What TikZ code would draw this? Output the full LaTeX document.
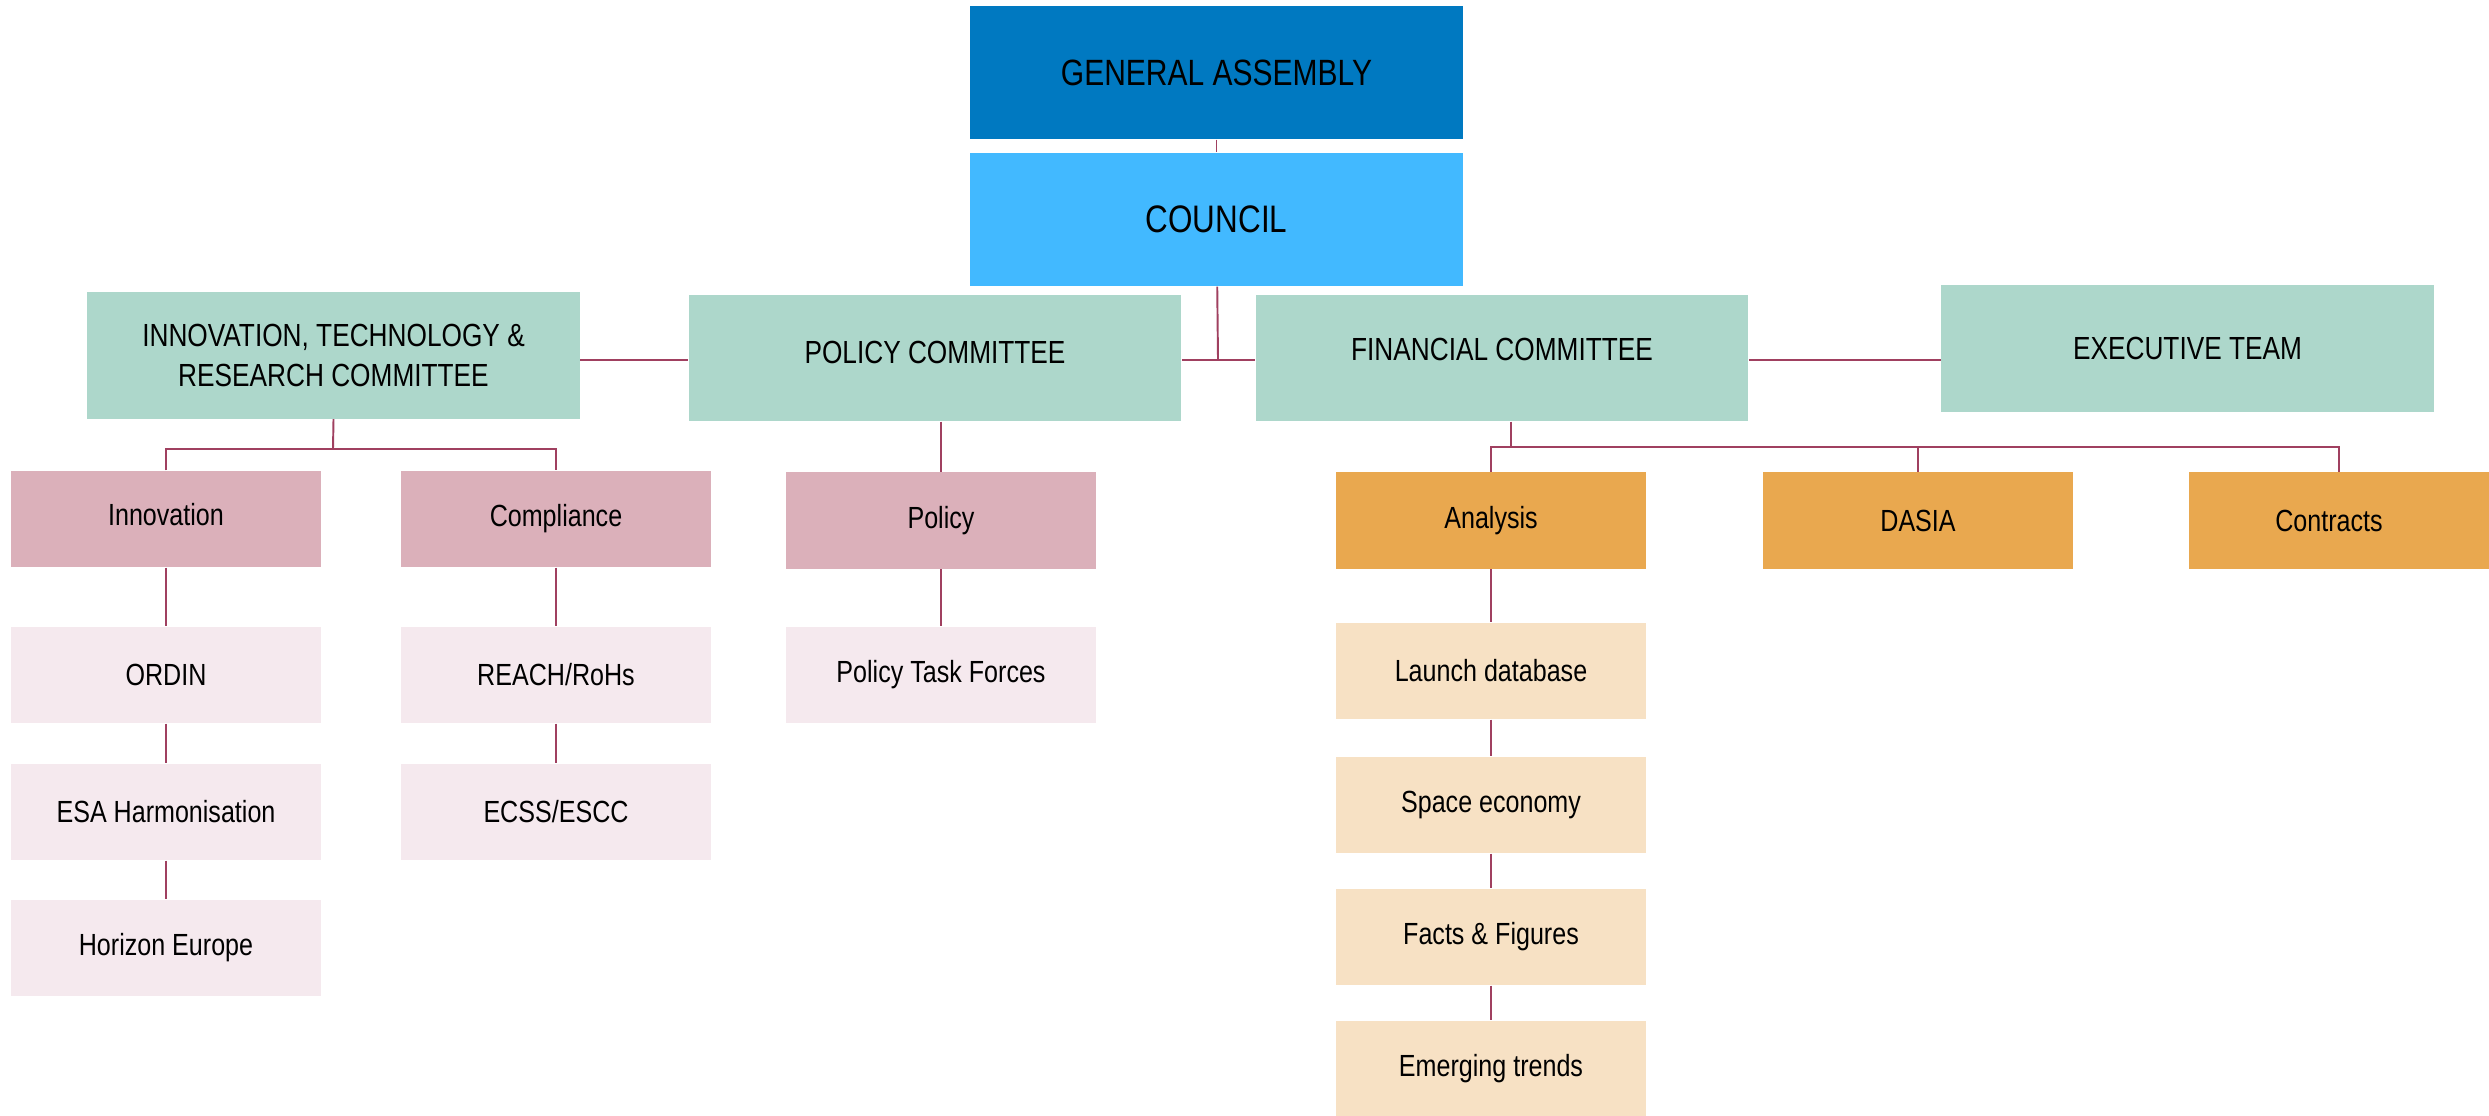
\documentclass[tikz,border=0pt]{standalone}
\usepackage{fontspec}
\setmainfont{Liberation Sans}[FakeStretch=0.82]
\usetikzlibrary{positioning}

\definecolor{gacol}{RGB}{0,121,193}
\definecolor{councilcol}{RGB}{66,185,255}
\definecolor{cmtecol}{RGB}{173,215,203}
\definecolor{wgcol}{RGB}{219,176,186}
\definecolor{wgitemcol}{RGB}{245,233,238}
\definecolor{fincol}{RGB}{233,168,79}
\definecolor{finitemcol}{RGB}{247,225,196}
\definecolor{linkcol}{RGB}{160,64,96}

% lift a text inside its box
\newcommand{\liftby}[1]{\rule[-#1]{0pt}{0pt}}

\tikzset{
	box/.style={rectangle, inner sep=0pt, align=center, text=black},
	topbox/.style={box, minimum width=4.93cm, minimum height=1.33cm},
	cmtebox/.style={box, fill=cmtecol, minimum width=4.92cm, minimum height=1.26cm, font=\fontsize{9.1}{11.3}\selectfont},
	wgbox/.style={box, fill=wgcol, minimum width=3.1cm, minimum height=0.96cm, font=\fontsize{8.7}{10.5}\selectfont},
	wgitembox/.style={wgbox, fill=wgitemcol},
	finbox/.style={wgbox, fill=fincol},
	finitembox/.style={wgbox, fill=finitemcol},
	link/.style={draw=linkcol, line width=0.55pt}
}

\begin{document}
\begin{tikzpicture}[x=0.01cm, y=-0.01cm]
		\useasboundingbox (0,0) rectangle (2489,1116);
		%
		% links first, boxes on top
		\coordinate (hub) at (1218,360);
		\coordinate (itrbus) at (333,449);
		\coordinate (finbus) at (1511,447);
		%
		% top of the tree
		\node (ga) at (1216.5,72.5) [topbox, fill=gacol, font=\fontsize{10.4}{12}\selectfont] {GENERAL ASSEMBLY};
		\node (council) at (1216.5,219.5) [topbox, fill=councilcol, font=\fontsize{10.9}{12}\selectfont] {COUNCIL};
		%
		% committees
		\node (itr) at (333.5,355.5) [cmtebox] {INNOVATION, TECHNOLOGY \&\\RESEARCH COMMITTEE};
		\node (polc) at (935,358) [cmtebox] {\liftby{0.12cm}POLICY COMMITTEE};
		\node (finc) at (1502,358) [cmtebox] {\liftby{0.18cm}FINANCIAL COMMITTEE};
		\node (exec) at (2187.5,348.5) [cmtebox] {EXECUTIVE TEAM};
		%
		% working groups
		\node (innov) at (166,519) [wgbox] {\liftby{0.1cm}Innovation};
		\node (comp) at (556,519) [wgbox] {Compliance};
		\node (pol) at (941,520.5) [wgbox] {Policy};
		\node (anal) at (1491,520.5) [finbox] {Analysis};
		\node (dasia) at (1918,520.5) [finbox] {DASIA};
		\node (contr) at (2339,520.5) [finbox, minimum width=3cm] {Contracts\hspace{0.2cm}};
		%
		% items
		\node (ordin) at (166,675) [wgitembox] {ORDIN};
		\node (esa) at (166,812) [wgitembox] {ESA Harmonisation};
		\node (hor) at (166,948) [wgitembox] {Horizon Europe};
		\node (reach) at (556,675) [wgitembox] {REACH/RoHs};
		\node (ecss) at (556,812) [wgitembox] {ECSS/ESCC};
		\node (ptf) at (941,675) [wgitembox] {Policy Task Forces};
		\node (launch) at (1491,671) [finitembox] {Launch database};
		\node (space) at (1491,805) [finitembox] {Space economy};
		\node (facts) at (1491,937) [finitembox] {Facts \& Figures};
		\node (trends) at (1491,1069) [finitembox] {Emerging trends};
		%
		% connectors
		\draw[link] (ga) -- (council);
		\draw[link] (council) -- (hub);
		\draw[link] (itr.east |- hub) -- (polc.west |- hub);
		\draw[link] (polc.east |- hub) -- (finc.west |- hub);
		\draw[link] (finc.east |- hub) -- (exec.west |- hub);
		%
		\draw[link] (itr.south) -- (itrbus);
		\draw[link] (innov.north) |- (itrbus) -| (comp.north);
		\draw[link] (innov) -- (ordin);
		\draw[link] (ordin) -- (esa);
		\draw[link] (esa) -- (hor);
		\draw[link] (comp) -- (reach);
		\draw[link] (reach) -- (ecss);
		%
		\draw[link] (pol.north |- polc.south) -- (pol.north);
		\draw[link] (pol) -- (ptf);
		%
		\draw[link] (finbus |- finc.south) -- (finbus);
		\draw[link] (anal.north) |- (finbus) -| (contr.north);
		\draw[link] (dasia.north |- finbus) -- (dasia.north);
		\draw[link] (anal) -- (launch);
		\draw[link] (launch) -- (space);
		\draw[link] (space) -- (facts);
		\draw[link] (facts) -- (trends);
		%
\end{tikzpicture}
\end{document}
